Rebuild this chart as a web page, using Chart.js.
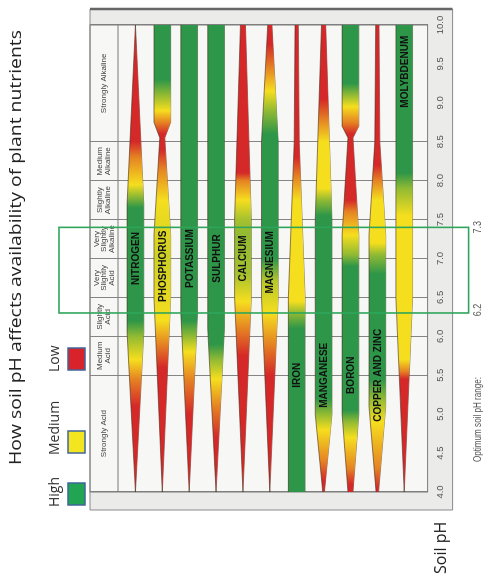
<!DOCTYPE html>
<html>
<head>
<meta charset="utf-8">
<script src="https://cdn.jsdelivr.net/npm/chart.js@4.4.1/dist/chart.umd.min.js"></script>
<style>
  body { margin: 0; background: #fff; overflow: hidden; }
  /* the whole slide is turned a quarter turn, like the reference */
  #wrap { position: absolute; left: 0; top: 0; width: 575px; height: 486px;
          transform-origin: 0 0; transform: translate(0, 575px) rotate(-90deg); }
  canvas { display: block; }
</style>
</head>
<body>
<div id="wrap"><canvas id="soilChart" width="575" height="486"></canvas></div>
<script>
const titleText = 'How soil pH affects availability of plant nutrients';
const phMin = 4, phMax = 10;

// zone boundaries on the pH axis and the names written between them
const zoneEdges = [4, 5.5, 6, 6.5, 7, 7.5, 8, 8.5, 10];
const zoneLabels = [
  ['Strongly Acid'], ['Medium', 'Acid'], ['Slightly', 'Acid'], ['Very', 'Slightly', 'Acid'],
  ['Very', 'Slightly', 'Alkaline'], ['Slightly', 'Alkaline'], ['Medium', 'Alkaline'], ['Strongly Alkaline']
];

const nutrients = ['NITROGEN', 'PHOSPHORUS', 'POTASSIUM', 'SULPHUR', 'CALCIUM', 'MAGNESIUM',
  'IRON', 'MANGANESE', 'BORON', 'COPPER AND ZINC', 'MOLYBDENUM'];
// pH where each name is written
const labelPH = [7.0, 6.9, 7.0, 7.0, 7.0, 6.95, 5.5, 5.5, 5.5, 5.5, 9.4];

// band width (0..1 of full width) at pH points
const widthProfiles = [
  [[4, 0], [6.05, 1], [7.7, 1], [10, 0]],
  [[4, 0], [6.5, 1], [7.3, 1], [8.55, 0.3], [8.75, 1], [10, 1]],
  [[4, 0], [6.3, 1], [10, 1]],
  [[4, 0], [6.1, 1], [10, 1]],
  [[4, 0], [6.5, 1], [7.5, 1], [10, 0.3]],
  [[4, 0], [6.5, 1], [8.5, 1], [10, 0.25]],
  [[4, 1], [6.5, 1], [8.5, 0.3], [10, 0.2]],
  [[4, 0.1], [5.0, 1], [7.5, 1], [10, 0.25]],
  [[4, 0.3], [5.0, 1], [7.3, 1], [8.55, 0.3], [8.7, 1], [10, 1]],
  [[4, 0.15], [5.1, 1], [7.3, 1], [8.5, 0.3], [10, 0.2]],
  [[4, 0], [6.5, 1], [10, 1]]
];

// availability at pH points: 0 = low (red), 1 = medium (yellow), 2 = high (green)
const levelProfiles = [
  [[4, 0], [5.1, 0], [5.45, 0.5], [5.7, 1], [6.0, 1.5], [6.2, 2], [7.65, 2], [7.8, 1.5], [7.95, 1], [8.3, 0.5], [8.5, 0], [10, 0]],
  [[4, 0], [5.6, 0], [5.9, 0.5], [6.2, 1], [7.0, 1.2], [7.75, 1], [8.15, 0.5], [8.4, 0], [8.6, 0], [8.75, 0.5], [8.9, 1], [9.1, 1.5], [9.3, 2], [10, 2]],
  [[4, 0], [5.0, 0], [5.45, 0.5], [5.8, 1], [6.0, 1.5], [6.2, 2], [10, 2]],
  [[4, 0], [4.7, 0], [5.1, 0.5], [5.45, 1], [5.7, 1.5], [5.9, 2], [10, 2]],
  [[4, 0], [5.75, 0], [6.1, 0.5], [6.45, 1], [6.8, 1.4], [7.3, 1.5], [7.5, 1.4], [7.75, 1], [8.0, 0.5], [8.1, 0], [10, 0]],
  [[4, 0], [5.5, 0], [5.9, 0.5], [6.3, 1], [6.7, 1.3], [7.0, 2], [8.6, 2], [8.9, 1.5], [9.15, 1], [9.45, 0.5], [9.75, 0], [10, 0]],
  [[4, 2], [6.1, 2], [6.3, 1.5], [6.45, 1], [7.75, 1], [8.05, 0.5], [8.3, 0], [10, 0]],
  [[4, 0], [4.15, 0], [4.4, 0.5], [4.8, 1], [5.0, 1.5], [5.2, 2], [7.55, 2], [7.75, 1.5], [7.9, 1], [8.5, 1], [8.78, 0.5], [9.05, 0], [10, 0]],
  [[4, 0], [4.1, 0], [4.3, 0.5], [4.7, 1], [4.9, 1.5], [5.05, 2], [6.9, 2], [7.05, 1.5], [7.3, 1], [7.6, 0.5], [7.75, 0], [8.6, 0], [8.75, 0.5], [8.95, 1], [9.1, 1.5], [9.25, 2], [10, 2]],
  [[4, 0], [4.05, 0], [4.3, 0.5], [4.9, 1], [5.2, 1.5], [5.45, 2], [6.8, 2], [7.05, 1.5], [7.2, 1], [7.75, 1], [8.0, 0.5], [8.2, 0], [10, 0]],
  [[4, 0], [5.45, 0], [5.55, 0.5], [5.7, 1], [7.55, 1], [7.9, 1.5], [8.1, 2], [10, 2]]
];

const legendLabels = ['High', 'Medium', 'Low'];
const legendColors = ['#21a552', '#f3e51f', '#d9232b'];

const optimumBox = [6.3, 7.4];          // where the green frame is drawn
const optimumLabels = ['6.2', '7.3'];   // what is written next to it

const red = [213, 40, 40], yellow = [245, 222, 30], green = [45, 150, 72];
function levelColor(lv) {
  const mix = (a, b, t) => a.map((v, k) => Math.round(v + (b[k] - v) * t));
  const c = lv <= 1 ? mix(red, yellow, lv) : mix(yellow, green, lv - 1);
  return `rgb(${c[0]},${c[1]},${c[2]})`;
}

const halfBand = 0.31;
const edgeColor = 'rgba(70,45,30,0.75)';
const datasets = [];
nutrients.forEach((name, i) => {
  const bandFill = (ctx) => {
    const chart = ctx.chart, x = chart.scales.x;
    if (!chart.chartArea || !x) return levelColor(1);
    const g = chart.ctx.createLinearGradient(x.getPixelForValue(phMin), 0, x.getPixelForValue(phMax), 0);
    levelProfiles[i].forEach(([ph, lv]) => g.addColorStop((ph - phMin) / (phMax - phMin), levelColor(lv)));
    return g;
  };
  datasets.push({
    label: name,
    data: widthProfiles[i].map(([ph, w]) => ({ x: ph, y: i - w * halfBand })),
    fill: '+1', backgroundColor: bandFill, borderColor: edgeColor, borderWidth: 0.8, pointRadius: 0
  });
  datasets.push({
    label: name + ' edge',
    data: widthProfiles[i].map(([ph, w]) => ({ x: ph, y: i + w * halfBand })),
    fill: false, borderColor: edgeColor, borderWidth: 0.8, pointRadius: 0
  });
});

function squeezeText(ctx, text, x, y, sx) {
  ctx.save();
  ctx.translate(x, y);
  ctx.scale(sx, 1);
  ctx.fillText(text, 0, 0);
  ctx.restore();
}

const decor = {
  id: 'decor',
  beforeDraw(chart) {
    const { ctx, chartArea: a } = chart;
    ctx.save();
    ctx.fillStyle = '#ebebe9';
    ctx.fillRect(a.left - 18, a.top, a.right - a.left + 34, a.bottom - a.top + 25);
    ctx.fillStyle = '#f7f7f5';
    ctx.fillRect(a.left, a.top, a.right - a.left, a.bottom - a.top);
    ctx.restore();
  },
  beforeDatasetsDraw(chart) {
    const { ctx, chartArea: a, scales: { x } } = chart;
    ctx.save();
    ctx.strokeStyle = '#7a7a7a';
    ctx.lineWidth = 1;
    ctx.strokeRect(a.left, a.top, a.right - a.left, a.bottom - a.top);
    ctx.beginPath();
    ctx.moveTo(a.left, a.top + 28);
    ctx.lineTo(a.right, a.top + 28);
    ctx.stroke();
    // zone names in the first column
    ctx.fillStyle = '#444';
    ctx.font = '8px "Liberation Sans"';
    ctx.textAlign = 'center';
    ctx.textBaseline = 'middle';
    zoneLabels.forEach((lines, k) => {
      const cx = (x.getPixelForValue(zoneEdges[k]) + x.getPixelForValue(zoneEdges[k + 1])) / 2;
      const lh = 7.5;
      lines.forEach((t, j) => ctx.fillText(t, cx, a.top + 14 + (j - (lines.length - 1) / 2) * lh));
    });
    ctx.restore();
  },
  afterDraw(chart) {
    const { ctx, chartArea: a, scales: { x, y } } = chart;
    ctx.save();
    // outer frame
    ctx.strokeStyle = '#8a8a8a';
    ctx.lineWidth = 1;
    ctx.beginPath();
    ctx.moveTo(a.left - 18, a.top); ctx.lineTo(a.left - 18, a.bottom + 25);
    ctx.lineTo(a.right + 16, a.bottom + 25);
    ctx.moveTo(a.left - 18, a.top); ctx.lineTo(a.right + 16, a.top);
    ctx.stroke();
    ctx.strokeStyle = '#666';
    ctx.lineWidth = 2.5;
    ctx.beginPath();
    ctx.moveTo(a.right + 16, a.top); ctx.lineTo(a.right + 16, a.bottom + 25);
    ctx.stroke();

    // nutrient names
    ctx.fillStyle = '#111';
    ctx.font = 'bold 11px "Liberation Sans"';
    ctx.textAlign = 'center';
    ctx.textBaseline = 'middle';
    nutrients.forEach((n, i) => squeezeText(ctx, n, x.getPixelForValue(labelPH[i]), y.getPixelForValue(i) + 0.5, 0.91));

    // optimum range frame
    const b0 = x.getPixelForValue(optimumBox[0]), b1 = x.getPixelForValue(optimumBox[1]);
    ctx.strokeStyle = '#2fa55a';
    ctx.lineWidth = 1.6;
    ctx.strokeRect(b0, a.top - 31, b1 - b0, a.bottom - a.top + 72);
    ctx.fillStyle = '#555';
    ctx.font = '10px "Liberation Sans"';
    ctx.textBaseline = 'alphabetic';
    squeezeText(ctx, optimumLabels[0], b0 + 3, a.bottom + 53, 0.9);
    squeezeText(ctx, optimumLabels[1], b1, a.bottom + 53, 0.9);
    ctx.textAlign = 'left';
    squeezeText(ctx, 'Optimum soil pH range:', a.left + 30, a.bottom + 53, 0.81);

    // title, legend and axis name
    ctx.fillStyle = '#222';
    ctx.font = '17px "Open Sans"';
    const tw = ctx.measureText(titleText).width;
    squeezeText(ctx, titleText, 110, 21, 435 / tw);
    ctx.font = '14px "Open Sans"';
    ctx.fillStyle = '#333';
    const legendStart = [68, 120, 203];
    legendLabels.forEach((t, k) => {
      ctx.fillText(t, legendStart[k], 59);
      ctx.fillStyle = legendColors[k];
      ctx.fillRect(legendStart[k] + 2, 68, 22, 17);
      ctx.strokeStyle = '#41669a';
      ctx.lineWidth = 1.5;
      ctx.strokeRect(legendStart[k] + 2, 68, 22, 17);
      ctx.fillStyle = '#333';
    });
    ctx.fillStyle = '#222';
    ctx.font = '16px "Open Sans"';
    ctx.fillText('Soil pH', 1, 446);
    ctx.restore();
  }
};

new Chart(document.getElementById('soilChart'), {
  type: 'line',
  data: { datasets },
  options: {
    responsive: false,
    animation: false,
    events: [],
    layout: { padding: { left: 83, right: 25, top: 90, bottom: 33 } },
    scales: {
      x: {
        type: 'linear', min: phMin, max: phMax, position: 'bottom',
        ticks: { stepSize: 0.5, autoSkip: false, maxRotation: 0, padding: 7, color: '#555',
                 font: { family: 'Liberation Sans', size: 9.5 }, callback: v => v.toFixed(1) },
        grid: { drawTicks: false, lineWidth: 1,
                color: c => (c.tick && zoneEdges.includes(c.tick.value)) ? '#858585' : 'rgba(0,0,0,0)' },
        border: { display: false }
      },
      y: { type: 'linear', display: false, reverse: true, min: -1.69, max: 10.87 }
    },
    plugins: { legend: { display: false }, tooltip: { enabled: false }, title: { display: false } }
  },
  plugins: [decor]
});
</script>
</body>
</html>
